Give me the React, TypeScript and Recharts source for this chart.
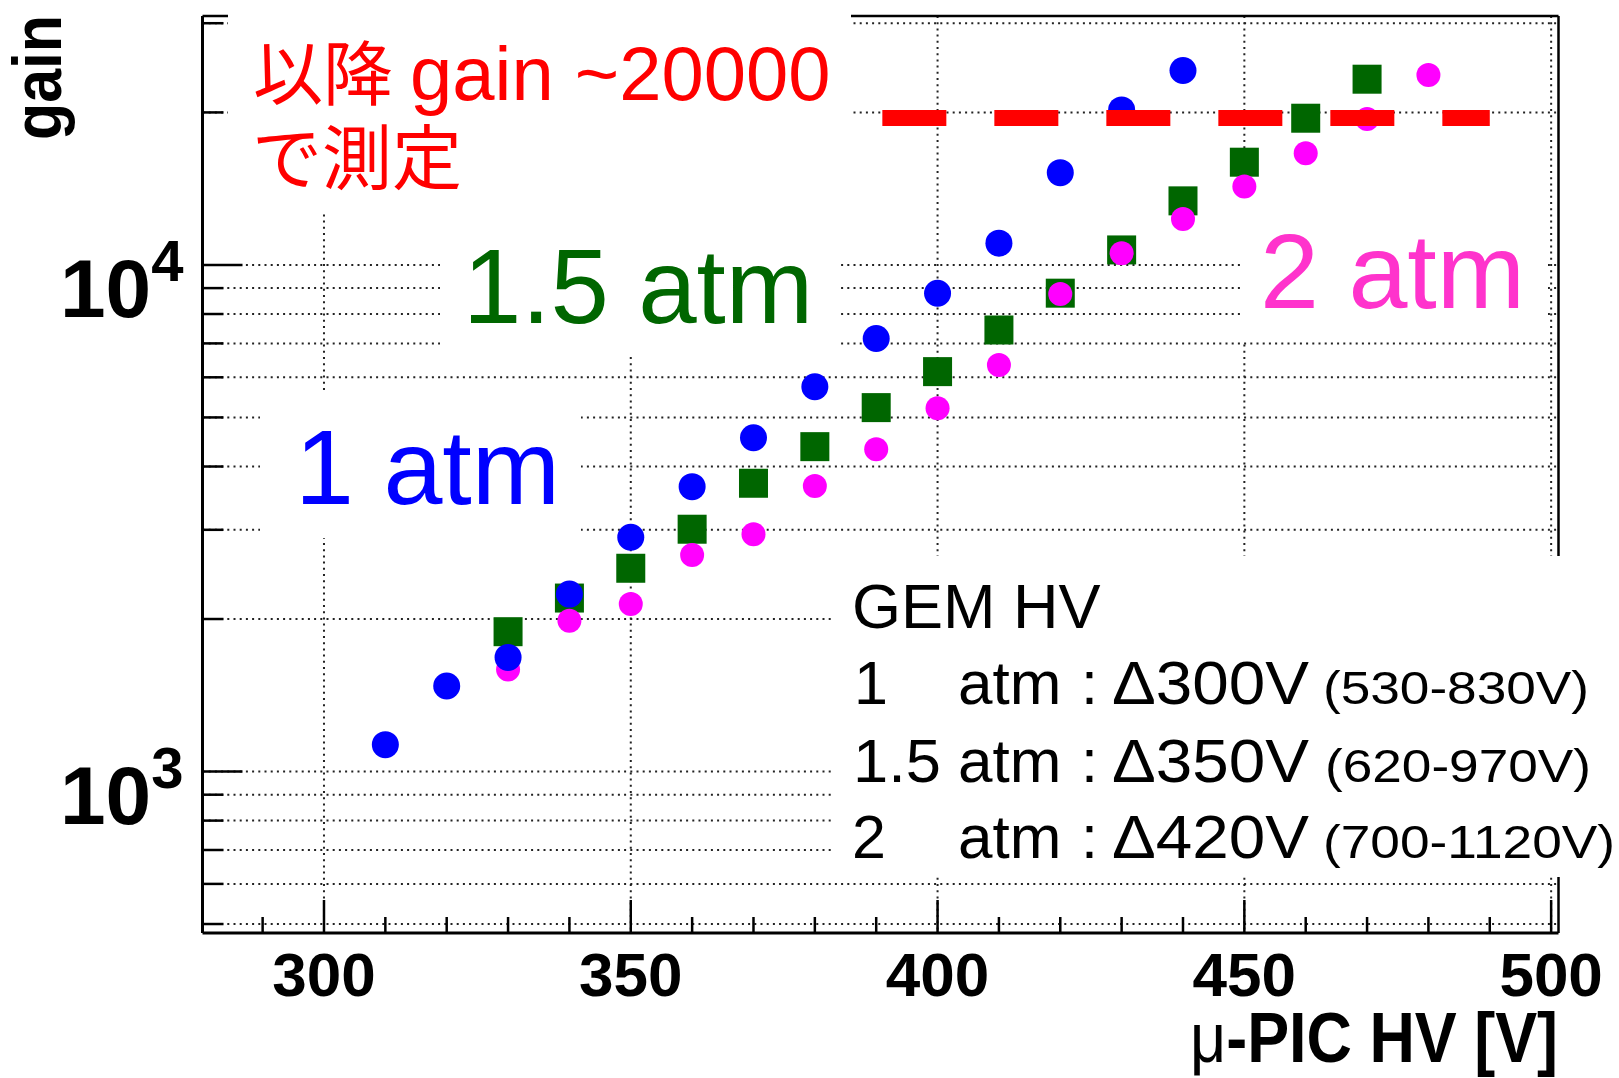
import React from 'react';
import { ScatterChart, Scatter, XAxis, YAxis, CartesianGrid, Customized } from 'recharts';

const FONT = "'Liberation Sans', Arial, Helvetica, 'Noto Sans CJK JP', sans-serif";

// μ-PIC HV [V] for each pressure
const hv1atm = [310, 320, 330, 340, 350, 360, 370, 380, 390, 400, 410, 420, 430, 440];
const gain1atm = [1130, 1475, 1680, 2240, 2900, 3650, 4560, 5750, 7160, 8790, 11040, 15210, 20230, 24190];

const hv15atm = [330, 340, 350, 360, 370, 380, 390, 400, 410, 420, 430, 440, 450, 460, 470];
const gain15atm = [1888, 2200, 2519, 3008, 3707, 4378, 5228, 6157, 7440, 8795, 10705, 13380, 15950, 19480, 23260];

const hv2atm = [330, 340, 350, 360, 370, 380, 390, 400, 410, 420, 430, 440, 450, 460, 470, 480];
const gain2atm = [1590, 1985, 2141, 2676, 2940, 3662, 4326, 5212, 6348, 8764, 10545, 12325, 14280, 16620, 19400, 23720];

// reference level "gain ~20000"
const refHv = [391, 490];
const refGain = [19500, 19500];

const xTicks = [290, 300, 310, 320, 330, 340, 350, 360, 370, 380, 390, 400, 410, 420, 430, 440, 450, 460, 470, 480, 490, 500];
const xGridTicks = [300, 350, 400, 450, 500];
const yTicks = [500, 600, 700, 800, 900, 1000, 2000, 3000, 4000, 5000, 6000, 7000, 8000, 9000, 10000, 20000, 30000];

const xDomain = [280.2, 501.2];
const yDomain = [480, 31000];

const toPoints = (xs: number[], ys: number[]) => xs.map((x, i) => ({ x, y: ys[i] }));
const pts1 = toPoints(hv1atm, gain1atm);
const pts15 = toPoints(hv15atm, gain15atm);
const pts2 = toPoints(hv2atm, gain2atm);
const ptsRef = toPoints(refHv, refGain);

const XTick = (props: any) => {
  const { x, y, payload } = props;
  const v = payload.value;
  const major = v % 50 === 0;
  return (
    <g>
      <line x1={x} x2={x} y1={y} y2={y - (major ? 33 : 16)} stroke="#000" strokeWidth={2.5} />
      {major && (
        <text x={x} y={y + 63} textAnchor="middle" fontFamily={FONT} fontWeight="bold" fontSize={62} fill="#000">
          {v}
        </text>
      )}
    </g>
  );
};

const YTick = (props: any) => {
  const { x, y, payload } = props;
  const v = payload.value;
  const lg = Math.log10(v);
  const exp = Math.round(lg);
  const major = Math.abs(lg - exp) < 1e-9;
  return (
    <g>
      <line x1={x} x2={x + (major ? 40 : 21)} y1={y} y2={y} stroke="#000" strokeWidth={2.5} />
      {major && (
        <text x={x - 19} y={y + 52} textAnchor="end" fontFamily={FONT} fontWeight="bold" fontSize={82} fill="#000">
          10
          <tspan dy={-36} fontSize={58}>
            {exp}
          </tspan>
        </text>
      )}
    </g>
  );
};

const Overlay = () => (
  <g>
    {/* top and right frame */}
    <line x1={202.5} x2={1558.5} y1={16} y2={16} stroke="#000" strokeWidth={2.5} />
    <line x1={1558.5} x2={1558.5} y1={16} y2={933} stroke="#000" strokeWidth={2.5} />
    {/* white text backgrounds */}
    <rect x={228} y={0} width={623} height={212} fill="#fff" />
    <rect x={440} y={200} width={397} height={156} fill="#fff" />
    <rect x={260} y={390} width={321} height={148} fill="#fff" />
    <rect x={1240} y={197} width={308} height={144} fill="#fff" />
    <rect x={831} y={556} width={788} height={321} fill="#fff" />

    <text x={253} y={100} fontFamily={FONT} fontSize={70} fill="#ff0000">以降</text>
    <text x={410} y={100} fontFamily={FONT} fontSize={76} fill="#ff0000">gain ~20000</text>
    <text x={252} y={184} fontFamily={FONT} fontSize={70} fill="#ff0000">で測定</text>

    <text x={463} y={323} fontFamily={FONT} fontSize={105} fill="#006600">1.5 atm</text>
    <text x={295} y={504} fontFamily={FONT} fontSize={106} fill="#0000ff">1 atm</text>
    <text x={1260} y={308} fontFamily={FONT} fontSize={106} fill="#ff33cc">2 atm</text>

    <text x={852} y={628} fontFamily={FONT} fontSize={63} fill="#000">GEM HV</text>

    <text x={854} y={704} fontFamily={FONT} fontSize={61} fill="#000">1</text>
    <text x={958} y={704} fontFamily={FONT} fontSize={62} fill="#000">atm</text>
    <text x={1081} y={704} fontFamily={FONT} fontSize={61} fill="#000">:</text>
    <text x={1112} y={704} fontFamily={FONT} fontSize={61} fill="#000" textLength={197} lengthAdjust="spacingAndGlyphs">Δ300V</text>
    <text x={1323} y={704} fontFamily={FONT} fontSize={46} fill="#000" textLength={266} lengthAdjust="spacingAndGlyphs">(530-830V)</text>

    <text x={853} y={782} fontFamily={FONT} fontSize={61} fill="#000" textLength={88} lengthAdjust="spacingAndGlyphs">1.5</text>
    <text x={958} y={782} fontFamily={FONT} fontSize={62} fill="#000">atm</text>
    <text x={1081} y={782} fontFamily={FONT} fontSize={61} fill="#000">:</text>
    <text x={1112} y={782} fontFamily={FONT} fontSize={61} fill="#000" textLength={197} lengthAdjust="spacingAndGlyphs">Δ350V</text>
    <text x={1325} y={782} fontFamily={FONT} fontSize={46} fill="#000" textLength={266} lengthAdjust="spacingAndGlyphs">(620-970V)</text>

    <text x={852} y={858} fontFamily={FONT} fontSize={61} fill="#000">2</text>
    <text x={958} y={858} fontFamily={FONT} fontSize={62} fill="#000">atm</text>
    <text x={1081} y={858} fontFamily={FONT} fontSize={61} fill="#000">:</text>
    <text x={1112} y={858} fontFamily={FONT} fontSize={61} fill="#000" textLength={197} lengthAdjust="spacingAndGlyphs">Δ420V</text>
    <text x={1323} y={858} fontFamily={FONT} fontSize={46} fill="#000" textLength={292} lengthAdjust="spacingAndGlyphs">(700-1120V)</text>

    {/* axis titles */}
    <text x={61} y={140} transform="rotate(-90 61 140)" fontFamily={FONT} fontWeight="bold" fontSize={68} fill="#000" textLength={125} lengthAdjust="spacingAndGlyphs">gain</text>
    <text x={1190} y={1062} fontFamily={FONT} fontWeight="bold" fontSize={70} fill="#000" textLength={368} lengthAdjust="spacingAndGlyphs">
      <tspan fontWeight="normal">μ</tspan>-PIC HV [V]
    </text>
  </g>
);

const BlueDot = (p: any) => <circle cx={p.cx} cy={p.cy} r={13.5} fill="#0000ff" />;
const MagentaDot = (p: any) => <circle cx={p.cx} cy={p.cy} r={12} fill="#ff00ff" />;
const GreenSquare = (p: any) => <rect x={p.cx - 14.5} y={p.cy - 14.5} width={29} height={29} fill="#006600" />;
const NoShape = () => <g />;

export default function App() {
  return (
    <div style={{ position: 'absolute', left: 0, top: 0, width: 1619, height: 1078, background: '#fff' }}>
      <ScatterChart width={1619} height={1078} margin={{ top: 16, right: 60.5, bottom: 85, left: 142.5 }}>
        <CartesianGrid
          horizontalValues={yTicks}
          verticalValues={xGridTicks}
          stroke="#222"
          strokeWidth={2}
          strokeDasharray="2 4.2"
        />
        <XAxis
          type="number"
          dataKey="x"
          domain={xDomain}
          allowDataOverflow
          ticks={xTicks}
          interval={0}
          height={60}
          tickSize={0}
          tickMargin={0}
          tickLine={false}
          axisLine={{ stroke: '#000', strokeWidth: 3 }}
          tick={<XTick />}
        />
        <YAxis
          type="number"
          dataKey="y"
          scale="log"
          domain={yDomain}
          allowDataOverflow
          ticks={yTicks}
          interval={0}
          width={60}
          tickSize={0}
          tickMargin={0}
          tickLine={false}
          axisLine={{ stroke: '#000', strokeWidth: 3 }}
          tick={<YTick />}
        />
        <Customized component={Overlay} />
        <Scatter data={pts15} isAnimationActive={false} shape={GreenSquare} fill="#006600" />
        <Scatter data={pts2} isAnimationActive={false} shape={MagentaDot} fill="#ff00ff" />
        <Scatter data={pts1} isAnimationActive={false} shape={BlueDot} fill="#0000ff" />
        <Scatter
          data={ptsRef}
          isAnimationActive={false}
          fill="#ff0000"
          shape={NoShape}
          line={{ stroke: '#ff0000', strokeWidth: 16, strokeDasharray: '64 48' }}
          lineType="joint"
        />
      </ScatterChart>
    </div>
  );
}
